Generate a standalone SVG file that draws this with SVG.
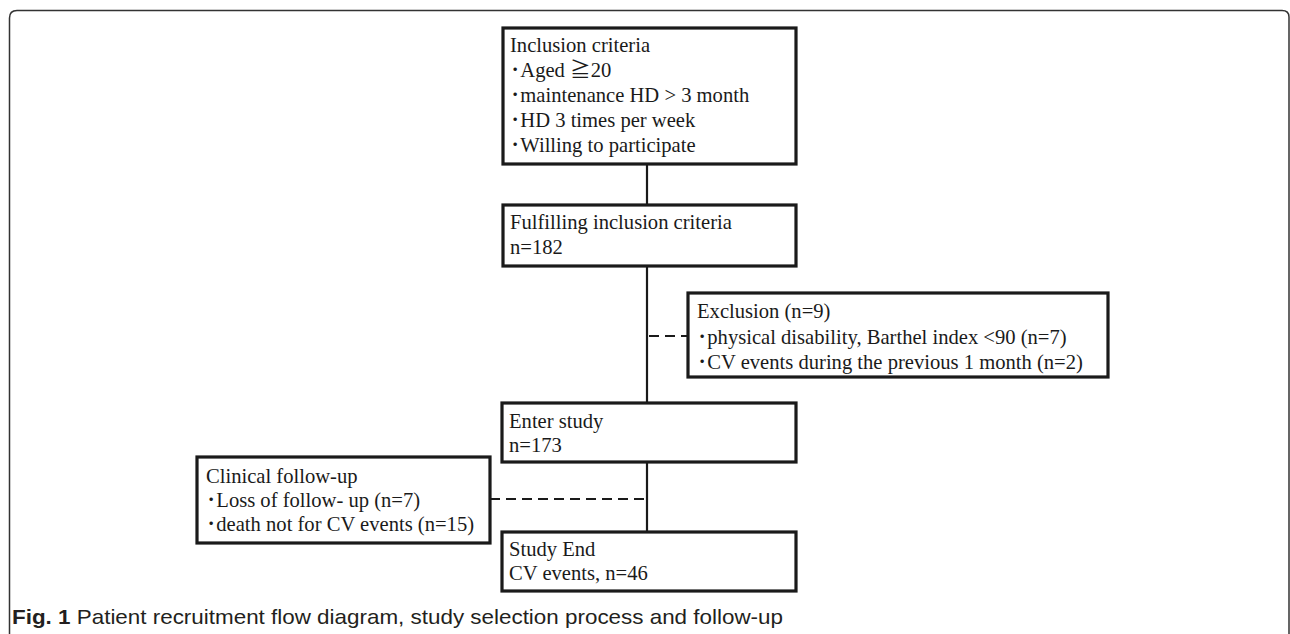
<svg xmlns="http://www.w3.org/2000/svg" width="1290" height="634" viewBox="0 0 1290 634">
<style>
.box{fill:#fff;stroke:#1a1a1a;stroke-width:3.2}
.t{font-family:"Liberation Serif","Noto Sans CJK JP",serif;font-size:20.6px;fill:#1a1a1a}
.ln{stroke:#1a1a1a;stroke-width:2.2;fill:none}
.dash{stroke:#1a1a1a;stroke-width:2.2;fill:none;stroke-dasharray:10 6}
.cap{font-family:"Liberation Sans","Open Sans",sans-serif;font-size:21px;fill:#231f20}
</style>
<path d="M9.5,634 V18 Q9.5,10.5 17,10.5 H1282 Q1289,10.5 1289,17 V634" fill="none" stroke="#333" stroke-width="1.5"/>
<g id="connectors">
<line class="ln" x1="647" y1="164" x2="647" y2="205"/>
<line class="ln" x1="647" y1="266" x2="647" y2="403"/>
<line class="ln" x1="647" y1="462" x2="647" y2="532"/>
<line class="dash" x1="649" y1="336" x2="688" y2="336"/>
<line class="dash" x1="490" y1="499" x2="645" y2="499"/>
</g>
<g id="inclusion">
<rect class="box" x="503" y="28" width="293" height="136"/>
<text class="t" x="510" y="52">Inclusion criteria</text>
<text class="t" x="510" y="77">･Aged ≧20</text>
<text class="t" x="510" y="102">･maintenance HD &gt; 3 month</text>
<text class="t" x="510" y="127">･HD 3 times per week</text>
<text class="t" x="510" y="152">･Willing to participate</text>
</g>
<g id="fulfilling">
<rect class="box" x="503" y="205" width="293" height="61"/>
<text class="t" x="510" y="229">Fulfilling inclusion criteria</text>
<text class="t" x="510" y="254">n=182</text>
</g>
<g id="exclusion">
<rect class="box" x="688" y="293" width="420" height="84"/>
<text class="t" x="697" y="318">Exclusion (n=9)</text>
<text class="t" x="697" y="344">･physical disability, Barthel index &lt;90 (n=7)</text>
<text class="t" x="697" y="369">･CV events during the previous 1 month (n=2)</text>
</g>
<g id="enter">
<rect class="box" x="502" y="403" width="294" height="59"/>
<text class="t" x="509" y="428">Enter study</text>
<text class="t" x="509" y="452">n=173</text>
</g>
<g id="clinical">
<rect class="box" x="197" y="457" width="293" height="86"/>
<text class="t" x="206" y="483">Clinical follow-up</text>
<text class="t" x="206" y="507">･Loss of follow- up (n=7)</text>
<text class="t" x="206" y="531">･death not for CV events (n=15)</text>
</g>
<g id="studyend">
<rect class="box" x="502" y="532" width="294" height="59"/>
<text class="t" x="509" y="556">Study End</text>
<text class="t" x="509" y="580">CV events, n=46</text>
</g>
<text class="cap" x="12" y="624" textLength="771" lengthAdjust="spacingAndGlyphs"><tspan font-weight="bold">Fig. 1</tspan> Patient recruitment flow diagram, study selection process and follow-up</text>
</svg>
